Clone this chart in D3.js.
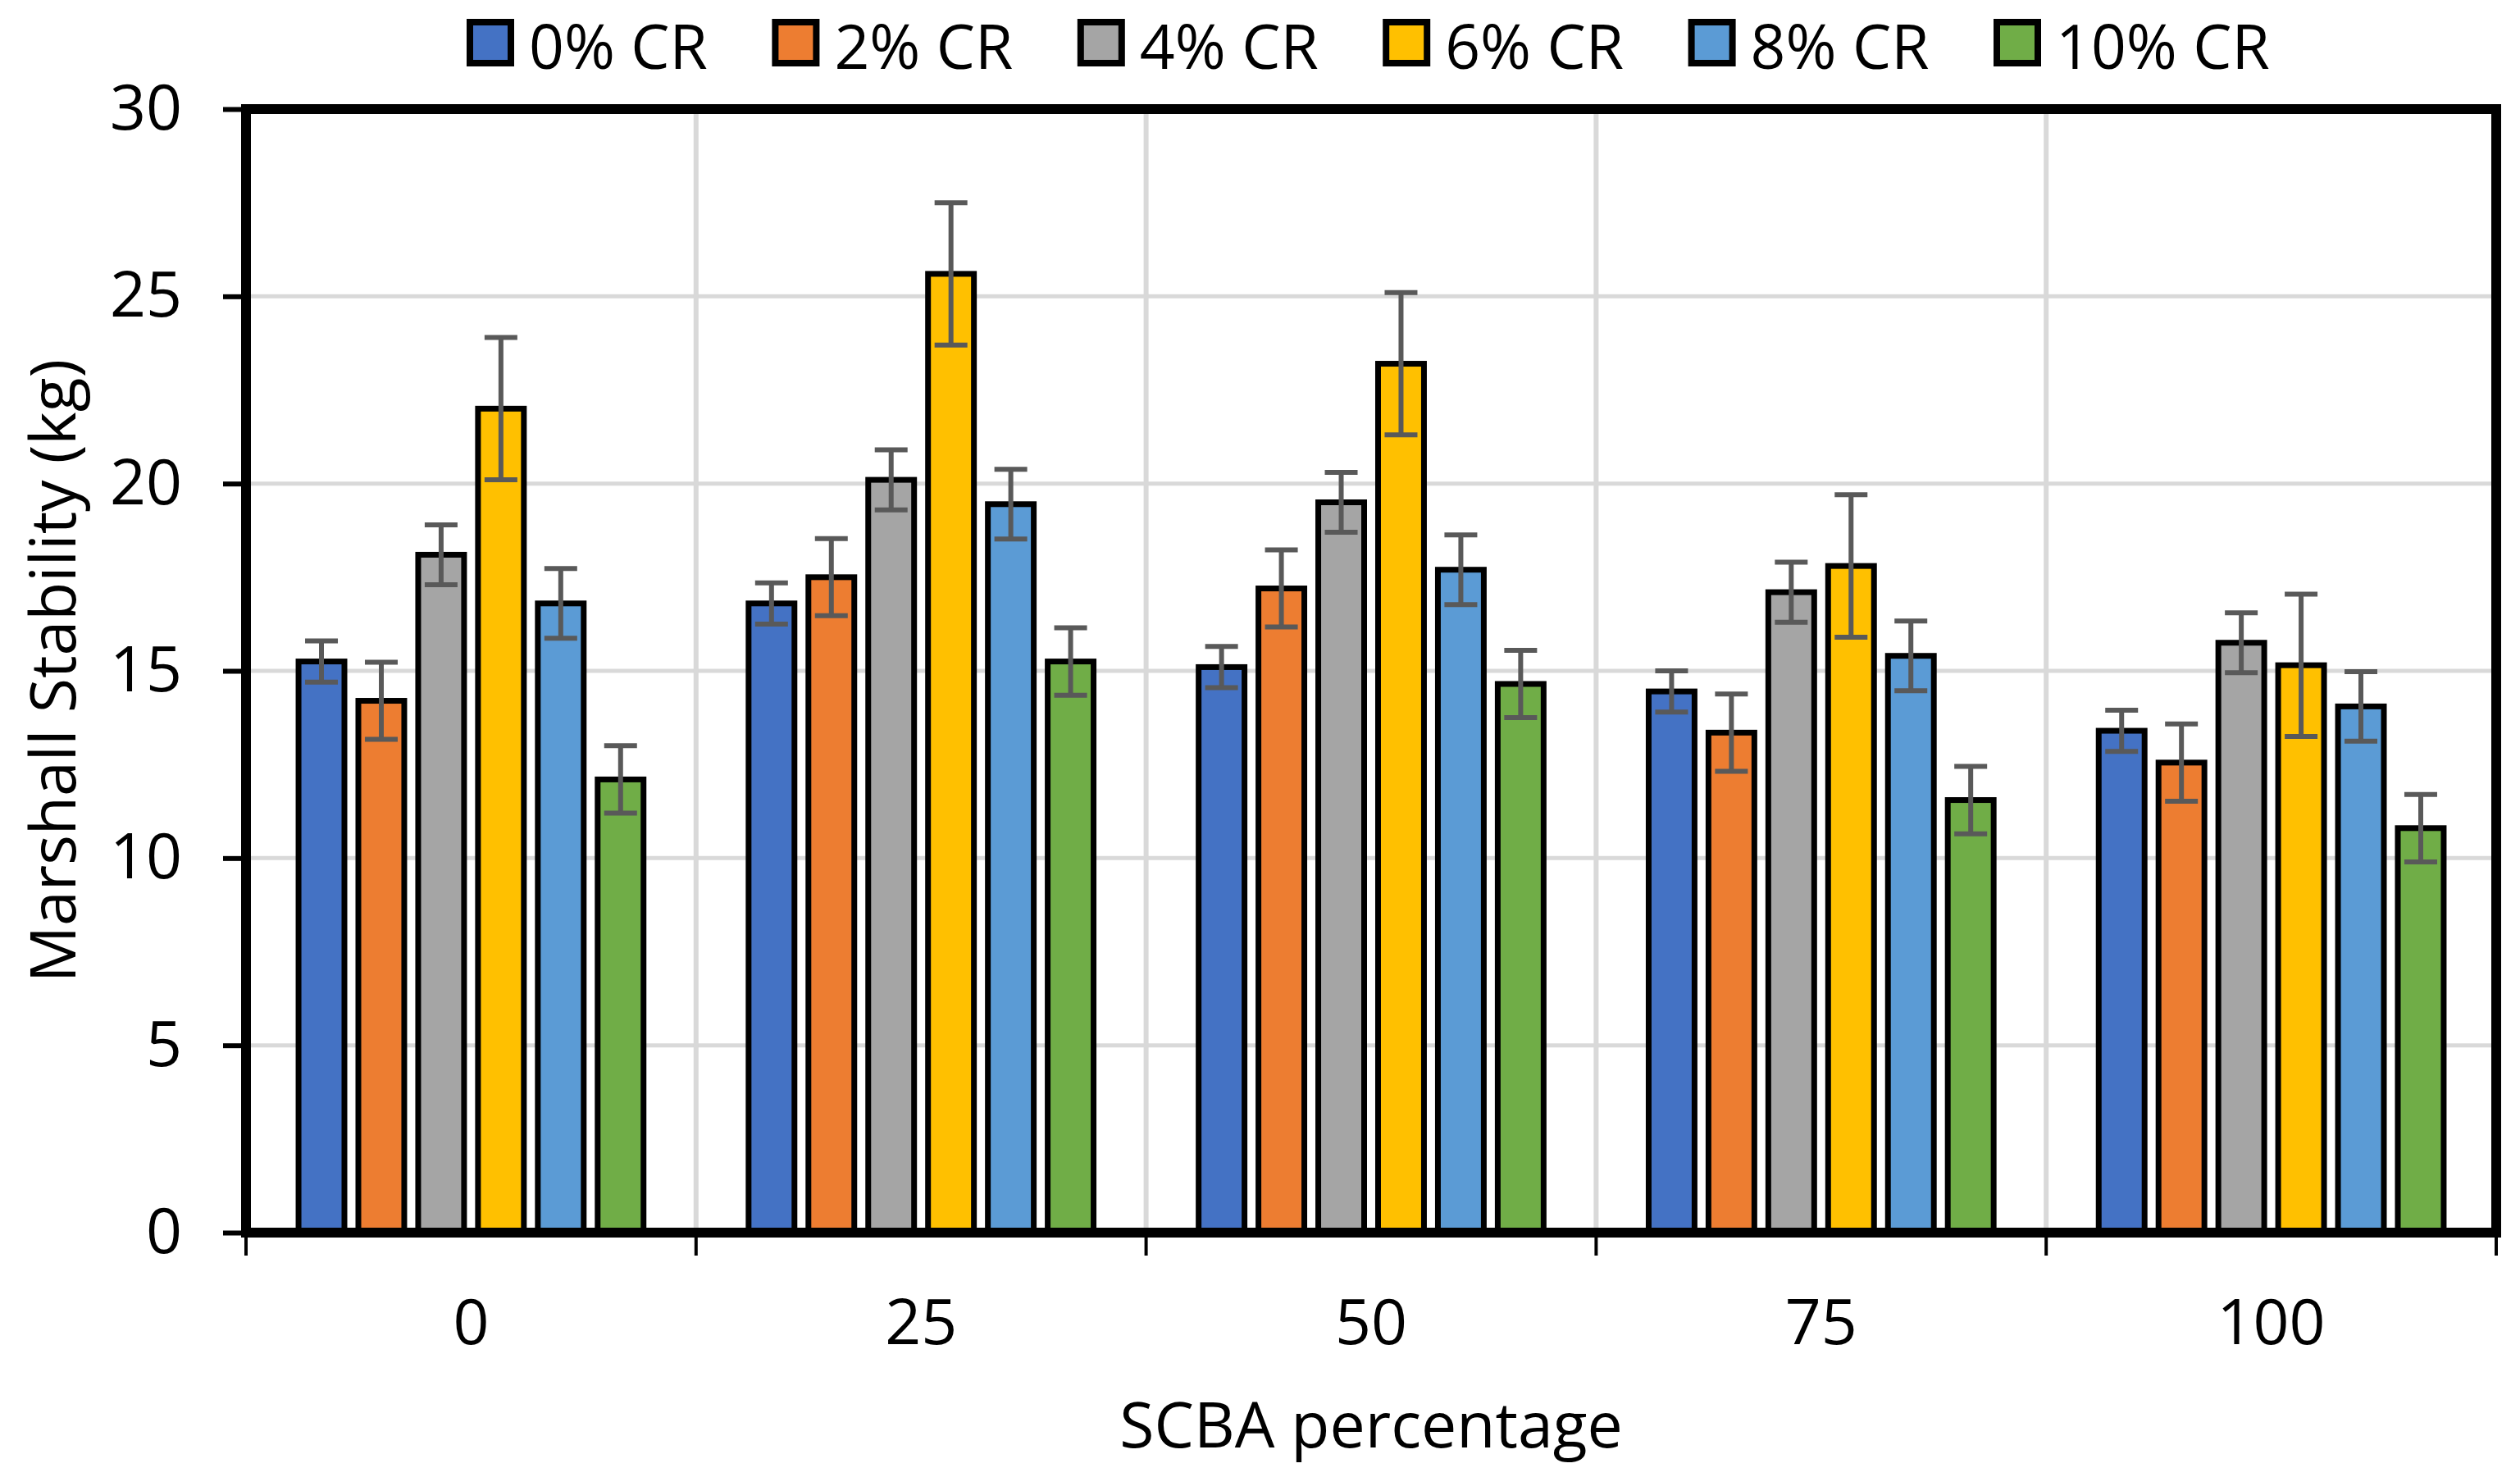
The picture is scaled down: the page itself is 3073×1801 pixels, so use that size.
<!DOCTYPE html>
<html>
<head>
<meta charset="utf-8">
<script src="https://cdn.jsdelivr.net/npm/d3@7"></script>
<style>
  body { margin: 0; background: #fff; }
  text { font-family: "Open Sans", "Liberation Sans", sans-serif; fill: #000; }
</style>
</head>
<body>
<div class="chart"></div>
<script>
const categories = ["0", "25", "50", "75", "100"];
const seriesNames = ["0% CR", "2% CR", "4% CR", "6% CR", "8% CR", "10% CR"];
const seriesColors = ["#4472C4", "#ED7D31", "#A5A5A5", "#FFC000", "#5B9BD5", "#70AD47"];

// Marshall stability (kg) for each CR series, across the SCBA categories
const cr0 = [15.25, 16.8, 15.1, 14.45, 13.4];
const cr2 = [14.2, 17.5, 17.2, 13.35, 12.55];
const cr4 = [18.1, 20.1, 19.5, 17.1, 15.75];
const cr6 = [22.0, 25.6, 23.2, 17.8, 15.15];
const cr8 = [16.8, 19.45, 17.7, 15.4, 14.05];
const cr10 = [12.1, 15.25, 14.65, 11.55, 10.8];

// error bar half-widths
const err0 = [0.55, 0.55, 0.55, 0.55, 0.55];
const err2 = [1.03, 1.03, 1.03, 1.03, 1.03];
const err4 = [0.8, 0.8, 0.8, 0.8, 0.8];
const err6 = [1.9, 1.9, 1.9, 1.9, 1.9];
const err8 = [0.93, 0.93, 0.93, 0.93, 0.93];
const err10 = [0.9, 0.9, 0.9, 0.9, 0.9];

const yTicks = [0, 5, 10, 15, 20, 25, 30];

const allValues = [cr0, cr2, cr4, cr6, cr8, cr10];
const allErrors = [err0, err2, err4, err6, err8, err10];

const width = 3073;
const height = 1801;
const plot = { left: 300, right: 3044, top: 133, bottom: 1503 };
const fontSize = 77;

const svg = d3
  .select(".chart")
  .append("svg")
  .attr("width", width)
  .attr("height", height);

svg.append("rect").attr("width", width).attr("height", height).attr("fill", "#fff");

const x0 = d3
  .scaleBand()
  .domain(categories)
  .range([plot.left, plot.right])
  .padding(0);

const x1 = d3
  .scaleBand()
  .domain(seriesNames)
  .range([0, x0.bandwidth()])
  .paddingInner(0.137)
  .paddingOuter(0.83);

const y = d3.scaleLinear().domain([0, 30]).range([plot.bottom, plot.top]);

// gridlines
svg
  .append("g")
  .selectAll("line")
  .data(yTicks.filter(d => d > 0 && d < 30))
  .join("line")
  .attr("x1", plot.left)
  .attr("x2", plot.right)
  .attr("y1", d => y(d))
  .attr("y2", d => y(d))
  .attr("stroke", "#D9D9D9")
  .attr("stroke-width", 5);

svg
  .append("g")
  .selectAll("line")
  .data(categories.slice(1))
  .join("line")
  .attr("x1", d => x0(d))
  .attr("x2", d => x0(d))
  .attr("y1", plot.top)
  .attr("y2", plot.bottom)
  .attr("stroke", "#D9D9D9")
  .attr("stroke-width", 6);

// bars
const barStroke = 7;
const rows = [];
seriesNames.forEach((s, i) => {
  categories.forEach((c, j) => {
    rows.push({ series: s, cat: c, value: allValues[i][j], err: allErrors[i][j], color: seriesColors[i] });
  });
});

svg
  .append("g")
  .selectAll("rect")
  .data(rows)
  .join("rect")
  .attr("x", d => x0(d.cat) + x1(d.series) + barStroke / 2)
  .attr("width", x1.bandwidth() - barStroke)
  .attr("y", d => y(d.value))
  .attr("height", d => y(0) - y(d.value))
  .attr("fill", d => d.color)
  .attr("stroke", "#000")
  .attr("stroke-width", barStroke);

// error bars
const errGroup = svg.append("g").attr("stroke", "#595959").attr("stroke-width", 6);
const capHalf = 20;
rows.forEach(d => {
  const cx = x0(d.cat) + x1(d.series) + x1.bandwidth() / 2;
  errGroup
    .append("line")
    .attr("x1", cx)
    .attr("x2", cx)
    .attr("y1", y(d.value + d.err))
    .attr("y2", y(d.value - d.err));
  errGroup
    .append("line")
    .attr("x1", cx - capHalf)
    .attr("x2", cx + capHalf)
    .attr("y1", y(d.value + d.err))
    .attr("y2", y(d.value + d.err));
  errGroup
    .append("line")
    .attr("x1", cx - capHalf)
    .attr("x2", cx + capHalf)
    .attr("y1", y(d.value - d.err))
    .attr("y2", y(d.value - d.err));
});

// plot border
svg
  .append("rect")
  .attr("x", plot.left)
  .attr("y", plot.top)
  .attr("width", plot.right - plot.left)
  .attr("height", plot.bottom - plot.top)
  .attr("fill", "none")
  .attr("stroke", "#000")
  .attr("stroke-width", 12);

// y axis
const yAxis = svg
  .append("g")
  .attr("transform", `translate(${plot.left - 6},0)`)
  .call(
    d3.axisLeft(y)
      .tickValues(yTicks)
      .tickSize(22)
      .tickPadding(50)
  );
yAxis.select(".domain").remove();
yAxis.selectAll(".tick line").attr("stroke", "#000").attr("stroke-width", 6);
yAxis
  .selectAll(".tick text")
  .attr("font-size", fontSize)
  .attr("font-family", "Open Sans")
  .attr("fill", "#000");

// x axis
const xTickPos = d3.range(categories.length + 1).map(i => plot.left + i * x0.bandwidth());
svg
  .append("g")
  .selectAll("line")
  .data(xTickPos)
  .join("line")
  .attr("x1", d => d)
  .attr("x2", d => d)
  .attr("y1", plot.bottom)
  .attr("y2", plot.bottom + 28)
  .attr("stroke", "#000")
  .attr("stroke-width", 4);

svg
  .append("g")
  .selectAll("text")
  .data(categories)
  .join("text")
  .attr("x", d => x0(d) + x0.bandwidth() / 2)
  .attr("y", 1609)
  .attr("text-anchor", "middle")
  .attr("dominant-baseline", "central")
  .attr("font-size", fontSize)
  .text(d => d);

// axis titles
svg
  .append("text")
  .attr("x", (plot.left + plot.right) / 2)
  .attr("y", 1735)
  .attr("text-anchor", "middle")
  .attr("dominant-baseline", "central")
  .attr("font-size", fontSize)
  .text("SCBA percentage");

svg
  .append("text")
  .attr("transform", `translate(62,${(plot.top + plot.bottom) / 2}) rotate(-90)`)
  .attr("text-anchor", "middle")
  .attr("dominant-baseline", "central")
  .attr("font-size", fontSize)
  .text("Marshall Stability (kg)");

// legend
const legend = svg
  .append("g")
  .selectAll("g")
  .data(seriesNames)
  .join("g")
  .attr("transform", (d, i) => `translate(${573 + i * 372.4},52)`);

legend
  .append("rect")
  .attr("x", 0)
  .attr("y", -25)
  .attr("width", 50)
  .attr("height", 50)
  .attr("fill", (d, i) => seriesColors[i])
  .attr("stroke", "#000")
  .attr("stroke-width", 8);

legend
  .append("text")
  .attr("x", 72)
  .attr("y", 3)
  .attr("dominant-baseline", "central")
  .attr("font-size", 75)
  .text(d => d);
</script>
</body>
</html>
